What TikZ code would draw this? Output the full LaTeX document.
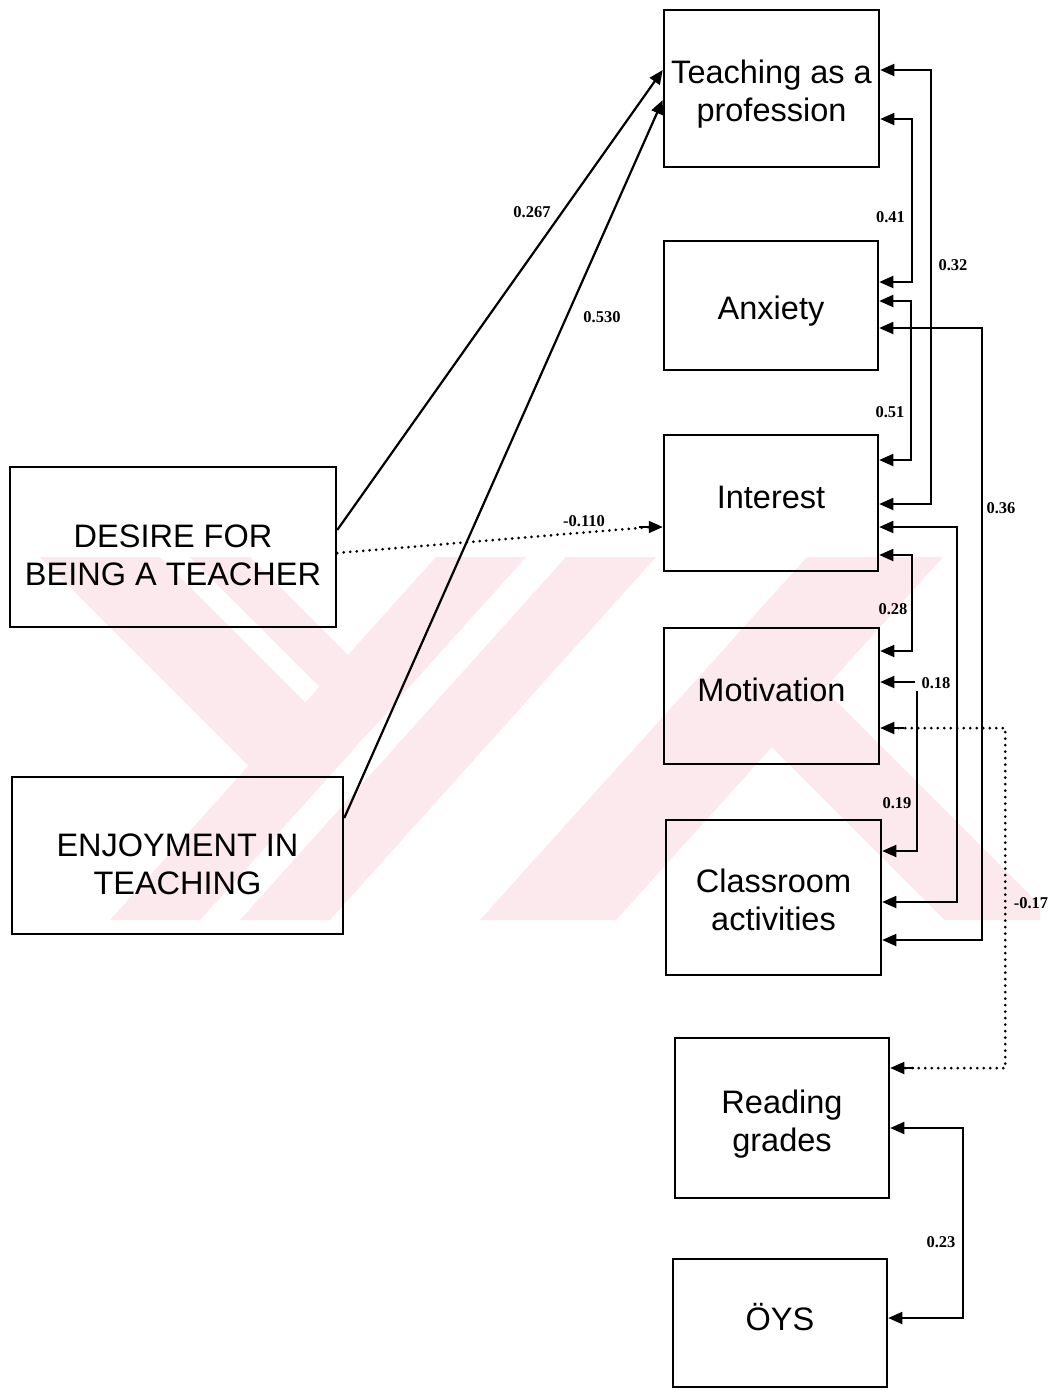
\documentclass[tikz,border=0pt]{standalone}
\usepackage{fontspec}
\setmainfont{Liberation Sans}
\newfontfamily\coeffont{Liberation Serif}
\usetikzlibrary{arrows.meta}
% box text, moved vertically by #1 while keeping its measured size
\newcommand{\boxtext}[2]{\raisebox{#1}[\height][\depth]{\begin{tabular}{@{}c@{}}#2\end{tabular}}}
\begin{document}
\begin{tikzpicture}[x=1pt,y=-1pt,
  box/.style={draw, line width=2.5pt, rectangle, inner sep=0pt,
    font=\fontsize{32.5}{38}\selectfont},
  link/.style={line width=1.8pt},
  arr/.style={link, -{Triangle[length=14pt,width=12pt]}},
  dbl/.style={link, {Triangle[length=14pt,width=12pt]}-{Triangle[length=14pt,width=12pt]}},
  dots/.style={line width=3pt, dash pattern=on 0pt off 6.5pt, line cap=round},
  coef/.style={font=\coeffont\bfseries\fontsize{16.5}{19}\selectfont, inner sep=1pt},
  emblem/.style={fill=wm}
]
\definecolor{wm}{RGB}{252,233,237}
\useasboundingbox (0,0) rectangle (1053,1390);
\fill[white] (0,0) rectangle (1053,1390);

% faint striped emblem in the background
\begin{scope}
  \clip (40,557) rectangle (1040,920);
  % left letter: short falling bars joining two long rising bars
  \fill[emblem] (40,557) -- (160,557) -- (353,750) -- (296,813) -- cycle;
  \fill[emblem] (190,557) -- (250,557) -- (396,703) -- (367,734) -- cycle;
  \fill[emblem] (110,920) -- (200,920) -- (526,557) -- (436,557) -- cycle;
  \fill[emblem] (240,920) -- (330,920) -- (656,557) -- (566,557) -- cycle;
  % right letter: long rising bar with a falling leg
  \fill[emblem] (480,920) -- (616,920) -- (943,557) -- (807,557) -- cycle;
  \fill[emblem] (772,747) -- (945,920) -- (1055,920) -- (824,689) -- cycle;
\end{scope}

% variables
\node[box, minimum width=215pt, minimum height=157pt] (teach) at (771.5,88.5) {\boxtext{-6.5pt}{Teaching as a\\profession}};
\node[box, minimum width=214pt, minimum height=129pt] (anx) at (771,305.5) {\boxtext{-6pt}{Anxiety}};
\node[box, minimum width=214pt, minimum height=136pt] (inter) at (771,503) {\boxtext{2pt}{Interest}};
\node[box, minimum width=215pt, minimum height=136pt] (motiv) at (771.5,696) {\boxtext{2pt}{Motivation}};
\node[box, minimum width=215pt, minimum height=155pt] (class) at (773.5,897.5) {\boxtext{-6.5pt}{Classroom\\activities}};
\node[box, minimum width=214pt, minimum height=160pt] (read) at (782,1118) {\boxtext{-7pt}{Reading\\grades}};
\node[box, minimum width=214pt, minimum height=128pt] (oys) at (780,1323) {\boxtext{0pt}{ÖYS}};
\node[box, minimum width=326pt, minimum height=160pt] (desire) at (173,547) {\boxtext{-12pt}{DESIRE FOR\\BEING A TEACHER}};
\node[box, minimum width=331pt, minimum height=157pt] (enjoy) at (177.5,855.5) {\boxtext{-12pt}{ENJOYMENT IN\\TEACHING}};

% direct effects
\draw[arr, line width=2.2pt] ([yshift=17pt]desire.east) -- ([yshift=18.5pt]teach.west);
\draw[arr, line width=2.2pt] ([yshift=37.5pt]enjoy.east) -- ([yshift=-11.5pt]teach.west);
\draw[dots] ([yshift=-6pt]desire.east) -- ([xshift=-12pt,yshift=-24pt]inter.west);
\draw[arr, shorten <=12pt] ([xshift=-12pt,yshift=-24pt]inter.west) -- ([yshift=-24pt]inter.west);

\node[coef] (c1) at (532,212) {0.267};
\node[coef] (c2) at (602,317) {0.530};
\node[coef] (c3) at (584,521) {-0.110};

% correlations
\draw[dbl] ([yshift=18.5pt]teach.east) -- ++(51,0) |- ([yshift=-1pt]inter.east);
\draw[dbl] ([yshift=-30.5pt]teach.east) -- ++(32,0) |- ([yshift=23.5pt]anx.east);
\draw[dbl] ([yshift=4.5pt]anx.east) -- ++(32,0) |- ([yshift=43pt]inter.east);
\draw[dbl] ([yshift=-22.5pt]anx.east) -- ++(103,0) |- ([yshift=-42.5pt]class.east);
\draw[dbl] ([yshift=-24pt]inter.east) -- ++(78,0) |- ([yshift=-4.5pt]class.east);
\draw[dbl] ([yshift=-52pt]inter.east) -- ++(33,0) |- ([yshift=45pt]motiv.east);
\draw[arr] ([xshift=35pt,yshift=14pt]motiv.east) -- ([yshift=14pt]motiv.east);
\draw[arr] ([xshift=37pt,yshift=5pt]motiv.east) |- ([yshift=46.5pt]class.east);
\draw[dots] ([xshift=12pt,yshift=-32pt]motiv.east) -- ++(113,0) |- ([xshift=12pt,yshift=50pt]read.east);
\draw[arr, shorten <=12pt] ([xshift=12pt,yshift=-32pt]motiv.east) -- ([yshift=-32pt]motiv.east);
\draw[arr, shorten <=12pt] ([xshift=12pt,yshift=50pt]read.east) -- ([yshift=50pt]read.east);
\draw[dbl] ([yshift=-10pt]read.east) -- ++(73,0) |- ([yshift=5pt]oys.east);

\node[coef] (r1) at (890.5,217) {0.41};
\node[coef] (r2) at (953,265) {0.32};
\node[coef] (r3) at (890,412) {0.51};
\node[coef] (r4) at (1001,508) {0.36};
\node[coef] (r5) at (893,609) {0.28};
\node[coef] (r6) at (936,683) {0.18};
\node[coef] (r7) at (897,803) {0.19};
\node[coef] (r8) at (1031,903) {-0.17};
\node[coef] (r9) at (941,1242) {0.23};
\end{tikzpicture}
\end{document}
